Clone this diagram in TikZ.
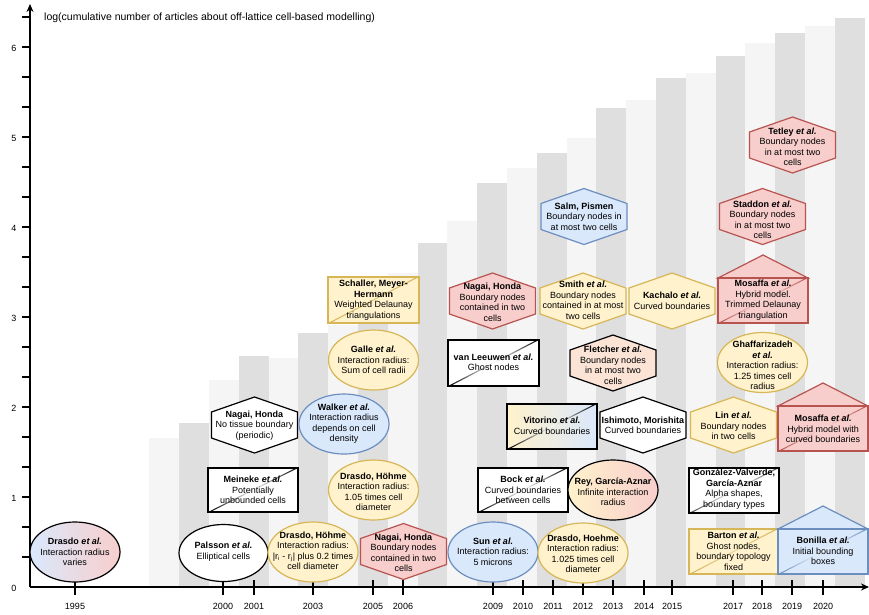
\documentclass[tikz,border=0pt]{standalone}
\usepackage{fontspec}
\setmainfont{Liberation Sans}
\usetikzlibrary{arrows.meta}
\definecolor{barL}{HTML}{F5F5F5}
\definecolor{barD}{HTML}{E0DFE0}
\definecolor{yfill}{HTML}{FFF2CC}
\definecolor{ydraw}{HTML}{D6B656}
\definecolor{rfill}{HTML}{F8CECC}
\definecolor{rdraw}{HTML}{B85450}
\definecolor{bfill}{HTML}{DAE8FC}
\definecolor{bdraw}{HTML}{6C8EBF}
\definecolor{pfill}{HTML}{FBE3D6}
\tikzset{
  txt/.style={font=\fontsize{9}{10.5}\selectfont, align=center, inner sep=0pt},
  ticklab/.style={font=\fontsize{9}{10}\selectfont, inner sep=0pt},
  axisline/.style={line width=1.4pt, black},
  shp/.style={line width=1.2pt},
  yelshape/.style={shp, fill=yfill, draw=ydraw},
  redshape/.style={shp, fill=rfill, draw=rdraw},
  blushape/.style={shp, fill=bfill, draw=bdraw},
  whishape/.style={shp, fill=white, draw=black},
}
% oval: opts, x, y
\newcommand\ovalat[3]{\path[#1] (#2,#3) ellipse [x radius=45pt, y radius=30pt];}
% hexagon: opts, cx, cy
\newcommand\hexat[3]{\path[#1] (#2-43,#3-13) -- (#2,#3-28) -- (#2+43,#3-13) -- (#2+43,#3+13) -- (#2,#3+28) -- (#2-43,#3+13) -- cycle;}
% box with diagonal: fillopts, drawcolor, x1, y1, x2, y2, diagcolor, midcolor
\newcommand\dbox[8]{%
  \path[#1] (#3,#4) rectangle (#5,#6);
  \shade[left color=#7, right color=#7, middle color=#8] (#3,#6) -- (#3+2.4,#6) -- (#5,#4) -- (#5-2.4,#4) -- cycle;
  \draw[draw=#2, line width=1.2pt] (#3,#4) rectangle (#5,#6);}
% house: fill, draw, x1, y1 (top of box), midcolor
\newcommand\house[5]{%
  \path[fill=#1, draw=#2, line width=1.2pt] (#3,#4) -- (#3+45,#4-23) -- (#3+90,#4) -- cycle;
  \dbox{fill=#1}{#2}{#3}{#4}{#3+90}{#4+45}{#2}{#5}}
\begin{document}
\begin{tikzpicture}[x=1pt,y=-1pt]
\useasboundingbox (0,0) rectangle (869,614);
\fill[white] (0,0) rectangle (869,614);
% bars
\foreach \bl/\bt/\bc in {149.4/438/barL, 179.2/423/barD, 209/380/barL, 238.8/356/barD, 268.6/358/barL, 298.4/333/barD, 328.2/325/barL, 358/300/barD, 387.8/273/barL, 417.6/243/barD, 447.4/221/barL, 477.2/183/barD, 507/168/barL, 536.8/153/barD, 566.6/138/barL, 596.4/108/barD, 626.2/100/barL, 656/78/barD, 685.8/73/barL, 715.6/56/barD, 745.4/43/barL, 775.2/33/barD, 805/26/barL, 834.8/18/barD}
  \fill[\bc] (\bl,\bt) rectangle ({\bl+29.8},587);
% axes
\coordinate (O) at (30,587);
\coordinate (ytip) at (30,4);
\coordinate (xtip) at (869,587);
\draw[axisline, -{Stealth[length=8pt,width=7pt]}] (O) -- (ytip);
\draw[axisline, -{Stealth[length=8pt,width=7pt]}] (O) -- (xtip);
\foreach \i in {1,...,19} \draw[axisline] (22,{587-30*\i}) -- (30,{587-30*\i});
\foreach \i in {0,...,6} \node[ticklab] (ylab\i) at (14,{588-90*\i}) {\i};
\foreach \yr/\xx in {1995/75, 2000/223, 2001/254, 2003/313, 2005/373, 2006/403, 2009/493, 2010/523, 2011/553, 2012/583, 2013/613, 2014/644, 2015/672, 2017/733, 2018/762, 2019/792, 2020/823}
  {\draw[axisline] (\xx,580) -- (\xx,595);
   \node[ticklab] (xlab\yr) at (\xx,606) {\yr};}
\node[anchor=west, font=\fontsize{10.5}{12}\selectfont, inner sep=0pt] (title) at (44,18) {log(cumulative number of articles about off-lattice cell-based modelling)};

% 1995
\ovalat{draw=black, line width=1.2pt, left color=bfill, right color=rfill}{75}{552}
\node[txt] (drasdo95) at (75,552) {\textbf{Drasdo \textit{et al.}}\\Interaction radius\\varies};
% 2000
\path[whishape] (223.5,553) ellipse [x radius=44.5pt, y radius=28.5pt];
\node[txt] (palsson) at (223.5,551.5) {\textbf{Palsson \textit{et al.}}\\Elliptical cells};
\dbox{fill=white}{black}{208}{468}{298}{512}{black}{white}
\node[txt] (meineke) at (253,490) {\textbf{Meineke \textit{et al.}}\\Potentially\\unbounded cells};
\hexat{whishape}{254.5}{425}
\node[txt] (nagai00) at (254.5,425.5) {\textbf{Nagai, Honda}\\No tissue boundary\\(periodic)};
% 2003
\ovalat{yelshape}{313}{552}
\node[txt] (drasdo03) at (313,551) {\textbf{Drasdo, Höhme}\\Interaction radius:\\|r\textsubscript{i} - r\textsubscript{j}| plus 0.2 times\\cell diameter};
% 2005
\ovalat{blushape}{344}{424}
\node[txt] (walker) at (344,423.5) {\textbf{Walker \textit{et al.}}\\Interaction radius\\depends on cell\\density};
\ovalat{yelshape}{373.5}{490}
\node[txt] (drasdo05) at (373.5,492) {\textbf{Drasdo, Höhme}\\Interaction radius:\\1.05 times cell\\diameter};
\ovalat{yelshape}{373.5}{360}
\node[txt] (galle) at (373.5,360) {\textbf{Galle \textit{et al.}}\\Interaction radius:\\Sum of cell radii};
\dbox{fill=yfill}{ydraw}{328}{277}{419}{323}{ydraw}{ydraw!75}
\node[txt] (schaller) at (373.5,300) {\textbf{Schaller, Meyer-}\\\textbf{Hermann}\\Weighted Delaunay\\triangulations};
% 2006
\hexat{redshape}{403.5}{551.5}
\node[txt] (nagai06) at (403.5,553) {\textbf{Nagai, Honda}\\Boundary nodes\\contained in two\\cells};
% 2009
\hexat{redshape}{492.5}{301}
\node[txt] (nagai09) at (492.5,302.5) {\textbf{Nagai, Honda}\\Boundary nodes\\contained in two\\cells};
\dbox{fill=white}{black}{448}{340}{539}{386}{black}{white}
\node[txt] (vanleeuwen) at (493.5,362.5) {\textbf{van Leeuwen \textit{et al.}}\\Ghost nodes};
\dbox{fill=white}{black}{478}{468}{568}{512}{black}{white}
\node[txt] (bock) at (523,490) {\textbf{Bock \textit{et al.}}\\Curved boundaries\\between cells};
\ovalat{blushape}{493}{552}
\node[txt] (sun) at (493,551.5) {\textbf{Sun \textit{et al.}}\\Interaction radius:\\5 microns};
% 2011-2015
\dbox{left color=yfill, right color=bfill}{black}{507}{404}{597}{449}{black}{white}
\node[txt] (vitorino) at (552,426) {\textbf{Vitorino \textit{et al.}}\\Curved boundaries};
\ovalat{yelshape}{583}{553}
\node[txt] (drasdo12) at (583,554) {\textbf{Drasdo, Hoehme}\\Interaction radius:\\1.025 times cell\\diameter};
\ovalat{draw=black, line width=1.2pt, left color=yfill, right color=rfill}{613}{490}
\node[txt] (rey) at (613,492) {\textbf{Rey, García-Aznar}\\Infinite interaction\\radius};
\hexat{whishape}{643}{425}
\node[txt] (ishimoto) at (643,425.5) {\textbf{Ishimoto, Morishita}\\Curved boundaries};
\hexat{shp, fill=pfill, draw=black}{613}{363}
\node[txt] (fletcher) at (613,365.5) {\textbf{Fletcher \textit{et al.}}\\Boundary nodes\\in at most two\\cells};
\hexat{yelshape}{583}{301}
\node[txt] (smith) at (583,300.5) {\textbf{Smith \textit{et al.}}\\Boundary nodes\\contained in at most\\two cells};
\hexat{yelshape}{672}{301}
\node[txt] (kachalo) at (672,301) {\textbf{Kachalo \textit{et al.}}\\Curved boundaries};
\hexat{blushape}{584}{216.5}
\node[txt] (salm) at (584,216.5) {\textbf{Salm, Pismen}\\Boundary nodes in\\at most two cells};
% 2017-2020
\hexat{redshape}{792.5}{145}
\node[txt] (tetley) at (792.5,147) {\textbf{Tetley \textit{et al.}}\\Boundary nodes\\in at most two\\cells};
\hexat{redshape}{762.5}{216.5}
\node[txt] (staddon) at (762.5,220) {\textbf{Staddon \textit{et al.}}\\Boundary nodes\\in at most two\\cells};
\house{rfill}{rdraw}{718}{278}{rfill!60}
\node[txt] (mosaffa1) at (763,300) {\textbf{Mosaffa \textit{et al.}}\\Hybrid model.\\Trimmed Delaunay\\triangulation};
\ovalat{yelshape}{762.5}{362.5}
\node[txt] (ghaff) at (762.5,365.5) {\textbf{Ghaffarizadeh}\\\textbf{\textit{et al.}}\\Interaction radius:\\1.25 times cell\\radius};
\hexat{yelshape}{733.5}{425}
\node[txt] (lin) at (733.5,426) {\textbf{Lin \textit{et al.}}\\Boundary nodes\\in two cells};
\house{rfill}{rdraw}{778}{406}{rfill!60}
\node[txt] (mosaffa2) at (823,429) {\textbf{Mosaffa \textit{et al.}}\\Hybrid model with\\curved boundaries};
\dbox{fill=white}{black}{689}{468}{779}{513}{black!70}{white}
\node[txt] (gonzalez) at (734,489) {\textbf{González-Valverde,}\\\textbf{García-Aznar}\\Alpha shapes,\\boundary types};
\dbox{fill=yfill}{ydraw}{689}{529}{778}{574}{ydraw}{ydraw!55}
\node[txt] (barton) at (733.5,551.5) {\textbf{Barton \textit{et al.}}\\Ghost nodes,\\boundary topology\\fixed};
\house{bfill}{bdraw}{778}{529}{white}
\node[txt] (bonilla) at (823,551) {\textbf{Bonilla \textit{et al.}}\\Initial bounding\\boxes};
\end{tikzpicture}
\end{document}
